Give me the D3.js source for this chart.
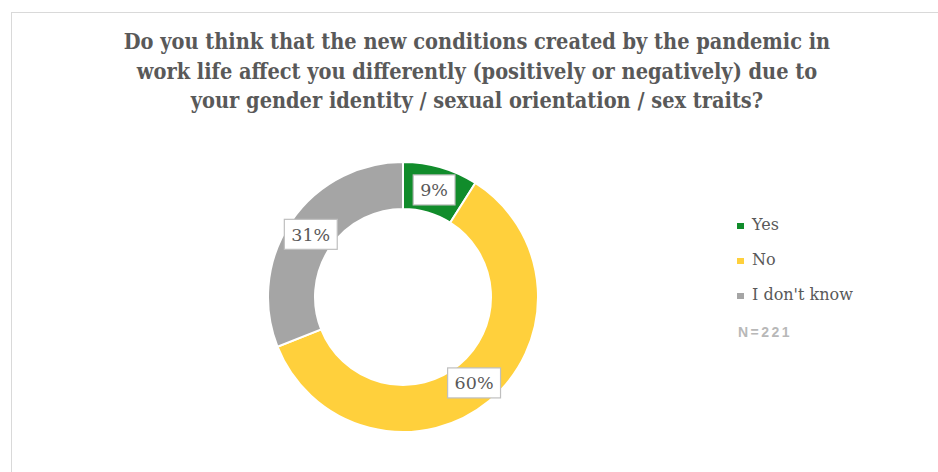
<!DOCTYPE html>
<html><head><meta charset="utf-8">
<script src="https://cdn.jsdelivr.net/npm/d3@7"></script>
<style>html,body{margin:0;padding:0;background:#fff;overflow:hidden}</style>
</head><body>
<svg id="c" width="938" height="472"></svg>
<script>
const titleLines = [
  "Do you think that the new conditions created by the pandemic in",
  "work life affect you differently (positively or negatively) due to",
  "your gender identity / sexual orientation / sex traits?"
];
const categories = ["Yes", "No", "I don't know"];
const values = [9, 60, 31];
const colors = ["#118c2b", "#ffd03c", "#a5a5a5"];
const note = "N=221";

const svg = d3.select("#c");
svg.append("rect").attr("x", 11.5).attr("y", 12.5).attr("width", 940).attr("height", 480)
  .attr("fill", "#fff").attr("stroke", "#d9d9d9").attr("stroke-width", 1);

// title
const title = svg.append("g");
const tt = titleLines.map((t, i) => title.append("text").attr("x", 477).attr("y", 49 + i * 29.5)
    .attr("text-anchor", "middle")
    .attr("font-family", "DejaVu Serif Condensed, DejaVu Serif, serif").attr("font-stretch", "condensed")
    .attr("font-weight", "bold")
    .attr("font-size", 22).attr("fill", "#595959")
    .text(t));
const w0 = tt[0].node().getComputedTextLength();
const fs = Math.min(24, 22 * 707 / w0);
tt.forEach(s => s.attr("font-size", fs));

// donut
const cx = 403, cy = 297, rOuter = 135, rInner = 88;
const pie = d3.pie().sort(null).value(d => d)(values);
const arc = d3.arc().innerRadius(rInner).outerRadius(rOuter);
const g = svg.append("g").attr("transform", `translate(${cx},${cy})`);
g.selectAll("path").data(pie).join("path")
  .attr("d", arc).attr("fill", (d, i) => colors[i])
  .attr("stroke", "#fff").attr("stroke-width", 2);

const fmt = v => v + "%";
const labels = g.selectAll("g.lab").data(pie).join("g").attr("class", "lab")
  .attr("transform", d => { const c = arc.centroid(d); return `translate(${c[0]},${c[1]})`; });
labels.each(function(d) {
  const sel = d3.select(this);
  const txt = sel.append("text").attr("text-anchor", "middle").attr("y", 6.5)
    .attr("font-family", "DejaVu Serif, serif").attr("font-size", 17.5).attr("fill", "#595959")
    .text(fmt(d.data));
  const w = txt.node().getComputedTextLength() + 14;
  sel.insert("rect", "text").attr("x", -w / 2).attr("y", -15).attr("width", w).attr("height", 30)
    .attr("fill", "#fff").attr("stroke", "#bfbfbf").attr("stroke-width", 1.2);
});

// legend
const lg = svg.append("g");
categories.forEach((c, i) => {
  const y = 230 + i * 35;
  lg.append("rect").attr("x", 737).attr("y", y - 7).attr("width", 7).attr("height", 6).attr("fill", colors[i]);
  lg.append("text").attr("x", 752).attr("y", y)
    .attr("font-family", "DejaVu Serif, serif").attr("font-size", 16).attr("fill", "#595959").text(c);
});
svg.append("text").attr("x", 738).attr("y", 337)
  .attr("font-family", "Liberation Sans, Arial, sans-serif").attr("font-weight", "bold")
  .attr("font-size", 14).attr("letter-spacing", 2.5).attr("fill", "#b8b8b8").text(note);
</script>
</body></html>
